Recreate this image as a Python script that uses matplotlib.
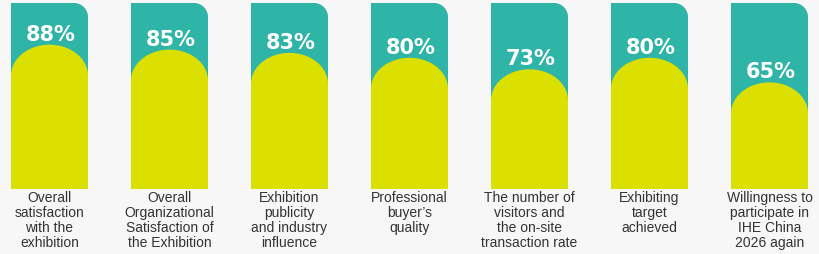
import numpy as np
import matplotlib
matplotlib.use("Agg")
import matplotlib.pyplot as plt
from matplotlib.patches import Polygon

# data
labels = ["Overall\nsatisfaction\nwith the\nexhibition",
          "Overall\nOrganizational\nSatisfaction of\nthe Exhibition",
          "Exhibition\npublicity\nand industry\ninfluence",
          "Professional\nbuyer\u2019s\nquality",
          "The number of\nvisitors and\nthe on-site\ntransaction rate",
          "Exhibiting\ntarget\nachieved",
          "Willingness to\nparticipate in\nIHE China\n2026 again"]
values = [88, 85, 83, 80, 73, 80, 65]

teal = "#2fb5a7"
yellow = "#dce000"
bg = "#f7f7f7"

k = 1.64          # pixels per unit
base_px = 190     # pixel row of the bar baseline (from top)
W, H = 820, 255
col_w = 77
top_val = (base_px - 4) / k   # teal panel top
arch_h = 31 / k               # height of the rounded cap
corner = 14                   # px radius of teal corner

fig = plt.figure(figsize=(W / 100, H / 100), dpi=100, facecolor=bg)
ax = fig.add_axes([0, 0, 1, 1])
ax.set_facecolor(bg)
ax.set_xlim(0, W)
ax.set_ylim(-(H - base_px) / k, base_px / k)
ax.axis("off")

t = np.linspace(0, np.pi / 2, 30)
th = np.linspace(0, np.pi, 80)
for i, (lab, v) in enumerate(zip(labels, values)):
    cx = 49.5 + 120 * i
    x0, x1 = cx - col_w / 2, cx + col_w / 2
    # teal panel with rounded top-right corner
    cxs = x1 - corner + corner * np.cos(t)
    cys = top_val - corner / k + corner / k * np.sin(t)
    pts = [(x0, 0), (x1, 0)] + list(zip(cxs, cys)) + [(x0, top_val)]
    ax.add_patch(Polygon(pts, closed=True, facecolor=teal, edgecolor="none"))
    # yellow arch
    sh = v - arch_h
    ax_ = cx + col_w / 2 * np.cos(th)
    ay_ = sh + arch_h * np.sin(th)
    pts = [(x0, 0), (x1, 0)] + list(zip(ax_, ay_))
    ax.add_patch(Polygon(pts, closed=True, facecolor=yellow, edgecolor="none"))
    ax.text(cx + 1, v + 5 / k, f"{v}%", ha="center", va="baseline",
            color="white", fontsize=15, fontweight="bold", family="DejaVu Sans")
    ax.text(cx, -1 / k, lab, ha="center", va="top", color="#333333",
            fontsize=10, family="Liberation Sans", linespacing=1.1)

fig.savefig("out.png", dpi=100, facecolor=bg)
